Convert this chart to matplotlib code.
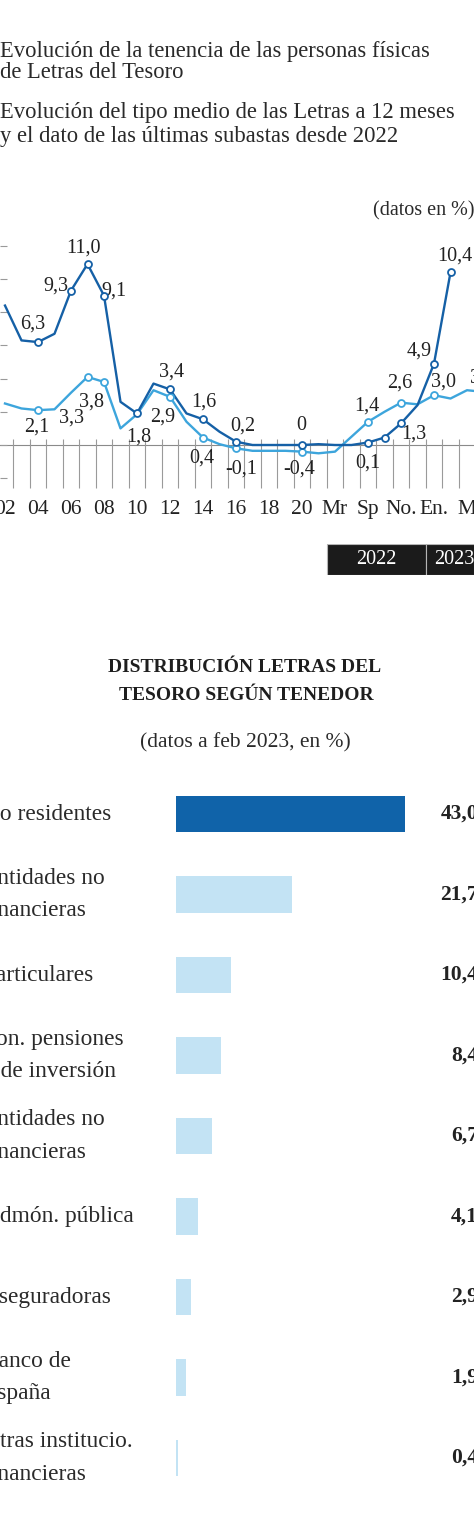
import numpy as np
import matplotlib
matplotlib.use("Agg")
import matplotlib.pyplot as plt
import matplotlib.transforms as mtransforms
from matplotlib.patches import Rectangle

plt.rcParams['font.family'] = ['Liberation Serif', 'DejaVu Serif']

# --- datos gráfico de líneas ---
# eje x: años 2002-2021 y subastas 2022-2023 (solo algunas etiquetadas)
etiquetas_x = ['02', '', '04', '', '06', '', '08', '', '10', '',
               '12', '', '14', '', '16', '', '18', '', '20', '',
               'Mr', '', 'Sp', '', 'No.', '', 'En.', '', 'M', '']

# tenencia de las personas físicas (%)
tenencia = [8.4, 6.3, 6.2, 6.7, 9.3, 10.9, 9.0, 2.6, 1.9, 3.7,
            3.35, 1.9, 1.55, 0.8, 0.2, 0.0, 0.0, 0.0, 0.0, 0.05,
            0.0, 0.0, 0.15, 0.45, 1.3, 2.4, 4.9, 10.4]

# tipo medio Letras a 12 meses (%)
tipo_medio = [2.5, 2.2, 2.1, 2.15, 3.15, 4.1, 3.8, 1.0, 1.85, 3.3,
              2.9, 1.4, 0.45, 0.05, -0.2, -0.35, -0.35, -0.35, -0.4, -0.5,
              -0.4, 0.5, 1.4, 2.0, 2.55, 2.45, 3.0, 2.8, 3.3, 3.2]

marcas_tenencia = [2, 4, 5, 6, 8, 10, 12, 14, 18, 22, 23, 24, 26, 27]
marcas_tipo = [2, 5, 6, 10, 12, 14, 18, 22, 24, 26]

idx_etq_tenencia = [2, 4, 5, 6, 10, 12, 14, 18, 22, 24, 26, 27]
txt_etq_tenencia = ['6,3', '9,3', '11,0', '9,1', '3,4', '1,6', '0,2', '0', '0,1', '1,3', '4,9', '10,4']
idx_etq_tipo = [2, 4, 5, 8, 10, 12, 14, 18, 22, 24, 26, 29]
txt_etq_tipo = ['2,1', '3,3', '3,8', '1,8', '2,9', '0,4', '-0,1', '-0,4', '1,4', '2,6', '3,0', '3,2']

# años de la franja inferior
anios = ['2022', '2023']
anios_ini = [19.5, 25.5]
anios_fin = [25.5, 29.0]

# --- datos gráfico de barras ---
tenedores = ['No residentes', 'Entidades no\nfinancieras', 'Particulares',
             'Fon. pensiones\ny de inversión', 'Entidades no\nfinancieras',
             'Admón. pública', 'Aseguradoras', 'Banco de\nEspaña',
             'Otras institucio.\nfinancieras']
porcentajes = [43.0, 21.7, 10.4, 8.4, 6.7, 4.1, 2.9, 1.9, 0.4]

# desplazamientos de etiquetas (pixeles, y hacia abajo)
off_tenencia = [(-5, -18), (-15, -5), (-4.5, -16), (10, -5), (2, -17), (1, -17),
                (7, -16), (-1, -19), (0, 21), (13, 11), (-15, -13), (4.5, -16)]
off_tipo = [(-1, 17), (0, 25), (3.5, 25), (2, 23), (-7, 20), (-1, 21),
            (5, 21), (-3, 17), (-1, -16), (-1, -20), (9, -13), (-1, -14)]

OSCURO = '#1560a6'
CLARO = '#3da5dc'
BARRA_OSC = '#1063a9'
BARRA_CLA = '#c3e3f4'
TXT = '#222222'

W, H = 474, 1521


def fx(x):
    return x / W


def fy(y):
    return 1 - y / H


fig = plt.figure(figsize=(W / 100, H / 100), dpi=100)
fig.patch.set_facecolor('white')

# titulos
fig.text(fx(0), fy(57.5), 'Evolución de la tenencia de las personas físicas',
         fontsize=16.3, color='#2a2a2a', va='baseline')
fig.text(fx(0), fy(77.5), 'de Letras del Tesoro', fontsize=16.3, color='#2a2a2a', va='baseline')
fig.text(fx(0), fy(118), 'Evolución del tipo medio de las Letras a 12 meses',
         fontsize=16.3, color='#2a2a2a', va='baseline')
fig.text(fx(0), fy(142), 'y el dato de las últimas subastas desde 2022',
         fontsize=16.3, color='#2a2a2a', va='baseline')
fig.text(fx(373), fy(211), '(datos en %)', fontsize=14.5, color='#2a2a2a', va='center')

# --- gráfico de líneas ---
ax = fig.add_axes([0, fy(490), 1, (490 - 230) / H])
for s in ax.spines.values():
    s.set_visible(False)

ax.set_yticks(range(-2, 13, 2))
ax.tick_params(axis='y', direction='in', length=5, width=0.8, color='#9a9a9a', labelleft=False)
ax.set_xticks(range(len(etiquetas_x)))
ax.set_xticklabels(etiquetas_x, fontsize=15.5, color=TXT)
ax.tick_params(axis='x', length=0, pad=7)

x0 = -5 / 16.5
ax.set_xlim(x0, x0 + W / 16.5)
ax.set_ylim((445 - 490) / 16.6, (445 - 230) / 16.6)

ax.axhline(0, color='#8a8a8a', lw=0.8, zorder=1)
ax.vlines(np.arange(-0.5, len(etiquetas_x)), -2.6, 0.35, color='#9a9a9a', lw=0.8, zorder=1)

xt = np.arange(len(tenencia))
xm = np.arange(len(tipo_medio))
ax.plot(xm, tipo_medio, color=CLARO, lw=1.7, zorder=3)
ax.plot(xt, tenencia, color=OSCURO, lw=1.7, zorder=4)
ax.plot(marcas_tipo, [tipo_medio[i] for i in marcas_tipo], 'o', ms=5, mfc='white',
        mec=CLARO, mew=1.3, zorder=5)
ax.plot(marcas_tenencia, [tenencia[i] for i in marcas_tenencia], 'o', ms=5, mfc='white',
        mec=OSCURO, mew=1.3, zorder=6)
ax.set_xlim(x0, x0 + W / 16.5)

for i, t, (dx, dy) in zip(idx_etq_tenencia, txt_etq_tenencia, off_tenencia):
    ax.annotate(t, (i, tenencia[i]), xytext=(dx, -dy), textcoords='offset pixels',
                ha='center', va='center', fontsize=14.5, color=TXT, annotation_clip=False)
for i, t, (dx, dy) in zip(idx_etq_tipo, txt_etq_tipo, off_tipo):
    ax.annotate(t, (i, tipo_medio[i]), xytext=(dx, -dy), textcoords='offset pixels',
                ha='center', va='center', fontsize=14.5, color=TXT, annotation_clip=False)

# franja de años
ay = fig.add_axes([0, fy(575), 1, 31 / H])
ay.set_xlim(ax.get_xlim())
ay.set_ylim(0, 1)
ay.axis('off')
for nombre, a, b in zip(anios, anios_ini, anios_fin):
    ay.add_patch(Rectangle((a, 0), b - a, 1, facecolor='#1b1b1b', edgecolor='#b5b5b5', lw=0.8))
    ay.text((a + b) / 2, 0.5, nombre, color='white', fontsize=14.5, ha='center', va='center')

# --- gráfico de barras ---
fig.text(fx(245), fy(671.5), 'DISTRIBUCIÓN LETRAS DEL', fontsize=14, fontweight='bold',
         color='#1e1e1e', ha='center', va='baseline')
fig.text(fx(246), fy(700), 'TESORO SEGÚN TENEDOR', fontsize=14, fontweight='bold',
         color='#1e1e1e', ha='center', va='baseline')
fig.text(fx(245), fy(743), '(datos a feb 2023, en %)', fontsize=15.5, color='#2a2a2a',
         ha='center', va='center')

escala = 5.33  # px por punto porcentual
ab = fig.add_axes([fx(176), fy(1498.25), (W - 176) / W, (1498.25 - 773.75) / H])
ab.set_xlim(0, (W - 176) / escala)
ab.set_ylim(len(porcentajes) - 0.5, -0.5)
ab.axis('off')
colores = [BARRA_OSC] + [BARRA_CLA] * (len(porcentajes) - 1)
filas = np.arange(len(porcentajes))
ab.barh(filas, porcentajes, height=0.456, color=colores)

trans = mtransforms.blended_transform_factory(fig.transFigure, ab.transData)
for i, (nom, v) in enumerate(zip(tenedores, porcentajes)):
    ab.text(fx(-17), i, nom, transform=trans, ha='left', va='center', fontsize=16.8,
            color='#2a2a2a', linespacing=1.7, clip_on=False)
    ab.text(fx(478), i, f'{v:.1f}'.replace('.', ','), transform=trans, ha='right',
            va='center', fontsize=15.5, fontweight='bold', color=TXT, clip_on=False)

fig.savefig('out.png', dpi=100, facecolor='white')
